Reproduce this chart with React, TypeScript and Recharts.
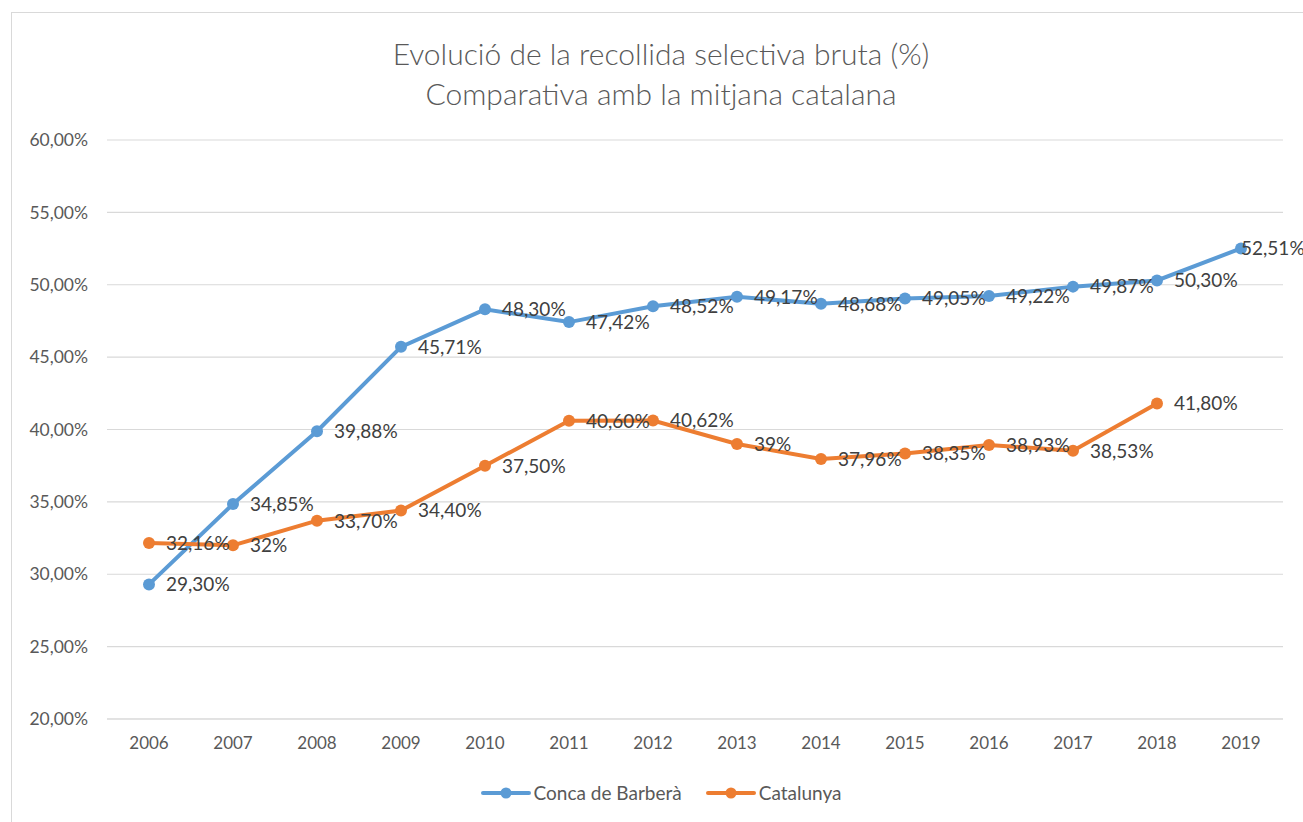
import React from "react";
import { LineChart, Line, XAxis, YAxis, CartesianGrid, Legend, LabelList } from "recharts";

const years = ["2006", "2007", "2008", "2009", "2010", "2011", "2012", "2013", "2014", "2015", "2016", "2017", "2018", "2019"];
const conca = [29.3, 34.85, 39.88, 45.71, 48.3, 47.42, 48.52, 49.17, 48.68, 49.05, 49.22, 49.87, 50.3, 52.51];
const catalunya = [32.16, 32, 33.7, 34.4, 37.5, 40.6, 40.62, 39, 37.96, 38.35, 38.93, 38.53, 41.8, null];
const yTicks = [20, 25, 30, 35, 40, 45, 50, 55, 60];

const data = years.map((year, i) => ({ year, conca: conca[i], catalunya: catalunya[i] }));

const BLUE = "#5B9BD5";
const ORANGE = "#ED7D31";
const FONT = "Lato, 'Open Sans', sans-serif";
const TEXT = "#595959";

const fmtPct = (v: number) => (Number.isInteger(v) ? `${v}%` : `${v.toFixed(2).replace(".", ",")}%`);

const PointLabel = (props: any) => {
  const { x, y, value, index } = props;
  if (value == null) return null;
  const dx = index === years.length - 1 ? 0 : 17;
  return (
    <text x={x + dx} y={y + 2} dominantBaseline="middle" fontSize={19} fontFamily={FONT} fill="#404040">
      {fmtPct(value)}
    </text>
  );
};

const LegendContent = () => {
  const items = [
    { name: "Conca de Barberà", color: BLUE },
    { name: "Catalunya", color: ORANGE },
  ];
  return (
    <div style={{ display: "flex", justifyContent: "center", gap: 24, fontFamily: FONT, fontSize: 19, color: TEXT }}>
      {items.map((it) => (
        <div key={it.name} style={{ display: "flex", alignItems: "center" }}>
          <svg width={50} height={14} style={{ marginRight: 3 }}>
            <line x1={2} y1={7} x2={48} y2={7} stroke={it.color} strokeWidth={4} strokeLinecap="round" />
            <circle cx={25} cy={7} r={5.5} fill={it.color} />
          </svg>
          <span>{it.name}</span>
        </div>
      ))}
    </div>
  );
};

export default function App() {
  return (
    <div
      style={{
        position: "absolute",
        left: 11,
        top: 12,
        width: 1298,
        height: 812,
        borderLeft: "1px solid #d9d9d9",
        borderTop: "1px solid #d9d9d9",
        background: "#fff",
      }}
    >
      <div
        style={{
          position: "absolute",
          top: 20,
          left: 0,
          width: 1298,
          textAlign: "center",
          fontFamily: FONT,
          fontSize: 30,
          fontWeight: 300,
          lineHeight: "40px",
          color: TEXT,
        }}
      >
        <div>Evolució de la recollida selectiva bruta (%)</div>
        <div>Comparativa amb la mitjana catalana</div>
      </div>
      <LineChart width={1298} height={810} data={data} margin={{ top: 127, right: 27, left: 0, bottom: 18 }}>
        <CartesianGrid vertical={false} stroke="#d9d9d9" strokeWidth={1.2} />
        <XAxis
          dataKey="year"
          axisLine={{ stroke: "#d9d9d9" }}
          tickLine={false}
          tickMargin={12}
          height={62}
          tick={{ fill: TEXT, fontSize: 17, fontFamily: FONT }}
          padding={{ left: 42, right: 42 }}
          interval={0}
        />
        <YAxis
          domain={[20, 60]}
          ticks={yTicks}
          width={95}
          axisLine={false}
          tickLine={false}
          tickMargin={13}
          tickFormatter={(v: number) => `${v.toFixed(2).replace(".", ",")}%`}
          tick={{ fill: TEXT, fontSize: 17.5, fontFamily: FONT }}
        />
        <Legend
          verticalAlign="bottom"
          height={24}
          content={<LegendContent />}
          wrapperStyle={{ left: 0, width: 1298 }}
        />
        <Line
          type="linear"
          dataKey="conca"
          name="Conca de Barberà"
          stroke={BLUE}
          strokeWidth={4}
          dot={{ r: 6, fill: BLUE, stroke: BLUE, strokeWidth: 0 }}
          isAnimationActive={false}
        >
          <LabelList dataKey="conca" content={<PointLabel />} />
        </Line>
        <Line
          type="linear"
          dataKey="catalunya"
          name="Catalunya"
          stroke={ORANGE}
          strokeWidth={4}
          dot={{ r: 6, fill: ORANGE, stroke: ORANGE, strokeWidth: 0 }}
          isAnimationActive={false}
        >
          <LabelList dataKey="catalunya" content={<PointLabel />} />
        </Line>
      </LineChart>
    </div>
  );
}
